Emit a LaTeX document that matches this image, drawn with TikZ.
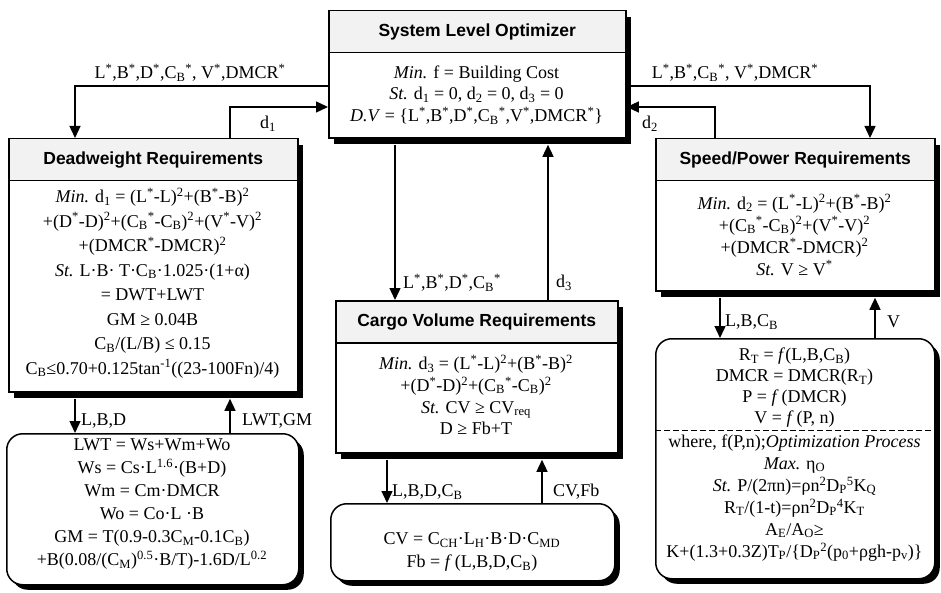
\documentclass[tikz,border=0pt]{standalone}
\usepackage{fontspec}
\setmainfont{Liberation Serif}
\newfontfamily\headfont{Liberation Sans}
\usetikzlibrary{arrows.meta,shadows}
\newcommand\sbs[1]{\textsubscript{#1}}
\newcommand\sps[1]{\textsuperscript{#1}}
\newcommand\st{\sps{*}}
\begin{document}
\begin{tikzpicture}[x=1pt,y=-1pt,
  boxo/.style={draw, line width=1.8pt, anchor=north west, inner sep=0pt, fill=white,
    drop shadow={shadow xshift=5pt, shadow yshift=-6pt, opacity=1, fill=black}},
  headb/.style={draw, line width=1.5pt, anchor=north west, inner sep=0pt, fill=black!5,
    font=\headfont\bfseries\fontsize{17.5}{20}\selectfont},
  bodyt/.style={align=center, inner sep=0pt, font=\fontsize{18}{21.5}\selectfont},
  lowb/.style={draw, line width=1.5pt, rounded corners=16pt, anchor=north west, inner sep=0pt, fill=white,
    drop shadow={shadow xshift=5pt, shadow yshift=-5pt, opacity=1, fill=black}},
  arr/.style={line width=1.4pt, -{Triangle[length=12pt,width=11pt]}},
  lbl/.style={inner sep=0pt, font=\fontsize{18}{20}\selectfont},
  dsh/.style={line width=1pt, dash pattern=on 6pt off 3pt}]
\useasboundingbox (0,0) rectangle (941,593);

% ---------- System Level Optimizer
\node[boxo, minimum width=297pt, minimum height=127pt] (sys) at (328,10) {};
\node[headb, minimum width=297pt, minimum height=42pt] (sysh) at (328,10) {System Level Optimizer};
\node[bodyt] (sysb) at (476.5,95) {\textit{Min.} f = Building Cost\\
\textit{St.} d\sbs{1} = 0, d\sbs{2} = 0, d\sbs{3} = 0\\
\textit{D.V} = \{L\st,B\st,D\st,C\sbs{B}\st,V\st,DMCR\st\}};

% ---------- Deadweight
\node[boxo, minimum width=289pt, minimum height=253pt] (dw) at (8,138) {};
\node[headb, minimum width=289pt, minimum height=42pt] (dwh) at (8,138) {Deadweight Requirements};
\node[bodyt, font=\fontsize{18}{24.5}\selectfont] (dwb) at (152.5,283) {\textit{Min.} d\sbs{1} = (L\st-L)\sps{2}+(B\st-B)\sps{2}\\
+(D\st-D)\sps{2}+(C\sbs{B}\st-C\sbs{B})\sps{2}+(V\st-V)\sps{2}\\
+(DMCR\st-DMCR)\sps{2}\\
\textit{St.} L·B· T·C\sbs{B}·1.025·(1+α)\\
= DWT+LWT\\
GM ≥ 0.04B\\
C\sbs{B}/(L/B) ≤ 0.15\\
C\sbs{B}≤0.70+0.125tan\sps{-1}((23-100Fn)/4)};

% ---------- Speed/Power
\node[boxo, minimum width=279pt, minimum height=152pt] (sp) at (655,138) {};
\node[headb, minimum width=279pt, minimum height=42pt] (sph) at (655,138) {Speed/Power Requirements};
\node[bodyt, font=\fontsize{18}{22}\selectfont] (spb) at (794.5,235) {\textit{Min.} d\sbs{2} = (L\st-L)\sps{2}+(B\st-B)\sps{2}\\
+(C\sbs{B}\st-C\sbs{B})\sps{2}+(V\st-V)\sps{2}\\
+(DMCR\st-DMCR)\sps{2}\\
\textit{St.} V ≥ V\st};

% ---------- Cargo Volume
\node[boxo, minimum width=282pt, minimum height=152pt] (cg) at (335,300) {};
\node[headb, minimum width=282pt, minimum height=42pt] (cgh) at (335,300) {Cargo Volume Requirements};
\node[bodyt, font=\fontsize{18}{21.7}\selectfont] (cgb) at (476,395) {\textit{Min.} d\sbs{3} = (L\st-L)\sps{2}+(B\st-B)\sps{2}\\
+(D\st-D)\sps{2}+(C\sbs{B}\st-C\sbs{B})\sps{2}\\
\textit{St.} CV ≥ CV\sbs{req}\\
D ≥ Fb+T};

% ---------- lower boxes
\node[lowb, minimum width=292pt, minimum height=151pt] (dwl) at (6,433) {};
\node[bodyt, font=\fontsize{18}{23}\selectfont] (dwlt) at (152,504) {LWT = Ws+Wm+Wo\\
Ws = Cs·L\sps{1.6}·(B+D)\\
Wm = Cm·DMCR\\
Wo = Co·L ·B\\
GM = T(0.9-0.3C\sbs{M}-0.1C\sbs{B})\\
+B(0.08/(C\sbs{M})\sps{0.5}·B/T)-1.6D/L\sps{0.2}};

\node[lowb, minimum width=284pt, minimum height=77pt] (cgl) at (330,503) {};
\node[bodyt, font=\fontsize{18}{23}\selectfont] (cglt) at (472,552) {CV = C\sbs{CH}·L\sbs{H}·B·D·C\sbs{MD}\\
Fb = \textit{f}\,(L,B,D,C\sbs{B})};

\node[lowb, minimum width=279pt, minimum height=240pt] (spl) at (655,338) {};
\node[bodyt, font=\fontsize{18}{21}\selectfont] (splt1) at (794.5,388) {R\sbs{T} = \textit{f}(L,B,C\sbs{B})\\
DMCR = DMCR(R\sbs{T})\\
P = \textit{f}\,(DMCR)\\
V = \textit{f}\,(P, n)};
\coordinate (dashy) at (0,430);
\draw[dsh] (spl.west |- dashy) -- (spl.east |- dashy);
\node[bodyt, font=\fontsize{18}{22}\selectfont] (splt2) at (794.5,498) {where, f(P,n);\textit{Optimization Process}\\
\textit{Max.} η\sbs{O}\\
\textit{St.} P/(2πn)=ρn\sps{2}D\sbs{P}\sps{5}K\sbs{Q}\\
R\sbs{T}/(1-t)=ρn\sps{2}D\sbs{P}\sps{4}K\sbs{T}\\
A\sbs{E}/A\sbs{O}≥\\
K+(1.3+0.3Z)T\sbs{P}/\{D\sbs{P}\sps{2}(p\sbs{0}+ρgh-p\sbs{v})\}};

% ---------- shadow-bottom coordinates
\coordinate (sysS) at ([yshift=-6pt]sys.south);
\coordinate (dwS) at ([yshift=-6pt]dw.south);
\coordinate (cgS) at ([yshift=-6pt]cg.south);
\coordinate (spS) at ([yshift=-6pt]sp.south);

% ---------- connectors: system <-> deadweight
\coordinate (jL) at (75,86);
\coordinate (jd1) at (230,107);
\draw[arr] (sys.west |- jL) -| (dw.north -| jL);
\draw[arr] (dw.north -| jd1) |- (sys.west |- jd1);
\node[lbl] (labL) at (190,73) {L\st,B\st,D\st,C\sbs{B}\st, V\st,DMCR\st};
\node[lbl] (labd1) at (268,124) {d\sbs{1}};

% system <-> speed
\coordinate (jR) at (870,86);
\coordinate (jd2) at (715,107);
\draw[arr] (sys.east |- jR) -| (sp.north -| jR);
\draw[arr] (sp.north -| jd2) |- (sys.east |- jd2);
\node[lbl] (labR) at (735,73) {L\st,B\st,C\sbs{B}\st, V\st,DMCR\st};
\node[lbl] (labd2) at (650,124) {d\sbs{2}};

% system <-> cargo
\coordinate (jc1) at (395,0);
\coordinate (jc2) at (548,0);
\draw[arr] (sysS -| jc1) -- (cg.north -| jc1);
\draw[arr] (cg.north -| jc2) -- (sysS -| jc2);
\node[lbl, anchor=west] (labC) at (403,283) {L\st,B\st,D\st,C\sbs{B}\st};
\node[lbl, anchor=west] (labd3) at (556,283) {d\sbs{3}};

% deadweight <-> lower
\coordinate (k1) at (75,0);
\coordinate (k2) at (230,0);
\draw[arr] (dwS -| k1) -- (dwl.north -| k1);
\draw[arr] (dwl.north -| k2) -- (dwS -| k2);
\node[lbl, anchor=west] (labLBD) at (81,421) {L,B,D};
\node[lbl, anchor=west] (labLWT) at (242,421) {LWT,GM};

% cargo <-> lower
\coordinate (k3) at (387,0);
\coordinate (k4) at (542,0);
\draw[arr] (cgS -| k3) -- (cgl.north -| k3);
\draw[arr] (cgl.north -| k4) -- (cgS -| k4);
\node[lbl, anchor=west] (labLBDC) at (392,492) {L,B,D,C\sbs{B}};
\node[lbl, anchor=west] (labCV) at (553,492) {CV,Fb};

% speed <-> lower
\coordinate (k5) at (720,0);
\coordinate (k6) at (875,0);
\draw[arr] (spS -| k5) -- (spl.north -| k5);
\draw[arr] (spl.north -| k6) -- (spS -| k6);
\node[lbl, anchor=west] (labLBC) at (725,322) {L,B,C\sbs{B}};
\node[lbl, anchor=west] (labV) at (887,322) {V};
\end{tikzpicture}
\end{document}
